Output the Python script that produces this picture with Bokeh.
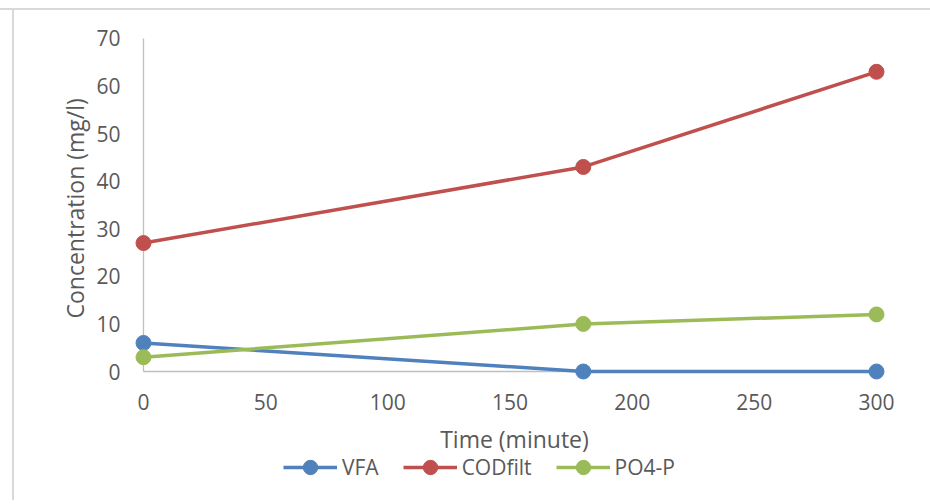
from bokeh.plotting import figure
from bokeh.models import Range1d, FixedTicker, Legend, LegendItem, Title
from bokeh.embed import file_html
from bokeh.resources import INLINE

time_min = [0, 180, 300]
vfa = [6, 0, 0]
codfilt = [27, 43, 63]
po4p = [3, 10, 12]
series_names = ["VFA", "CODfilt", "PO4-P"]
series_colors = ["#4f81bd", "#c0504d", "#9bbb59"]
x_ticks = [0, 50, 100, 150, 200, 250, 300]
y_ticks = [0, 10, 20, 30, 40, 50, 60, 70]

FONT = "Open Sans"
TXT = "#595959"
AXC = "#bfbfbf"
FRAME_BG = ("linear-gradient(#d9d9d9,#d9d9d9) 0px 8px / 100% 2px no-repeat, "
            "linear-gradient(#d9d9d9,#d9d9d9) 12px 8px / 2px 100% no-repeat")

p = figure(frame_width=762, frame_height=472, output_backend="svg",
           toolbar_location=None,
           x_range=Range1d(-4.093, 307.776), y_range=Range1d(-27.117, 72.102),
           min_border_left=133, min_border_right=35, min_border_top=28,
           min_border_bottom=0, styles={"background": FRAME_BG})
p.outline_line_color = None
p.background_fill_color = None
p.border_fill_color = None
p.xgrid.visible = False
p.ygrid.visible = False

for ax, ticks in ((p.xaxis[0], x_ticks), (p.yaxis[0], y_ticks)):
    ax.ticker = FixedTicker(ticks=ticks)
    ax.axis_line_color = None
    ax.major_tick_line_color = None
    ax.minor_tick_line_color = None
    ax.major_label_text_font = FONT
    ax.major_label_text_font_size = "21px"
    ax.major_label_text_color = TXT
    ax.axis_label_text_font = FONT
    ax.axis_label_text_font_size = "23px"
    ax.axis_label_text_font_style = "normal"
    ax.axis_label_text_color = TXT

p.xaxis[0].fixed_location = 0
p.xaxis[0].axis_label = "Time (minute)"
p.xaxis[0].major_label_standoff = 16
p.xaxis[0].axis_label_standoff = 10
p.yaxis[0].major_label_standoff = 7

ytitle = Title(text="Concentration (mg/l)", align="left", offset=182,
               standoff=5, text_font=FONT, text_font_size="23px",
               text_font_style="normal", text_color=TXT)
p.add_layout(ytitle, "left")

# axis lines at the data origin, spanning the tick range
p.segment(x0=[x_ticks[0], x_ticks[0]], y0=[y_ticks[0], y_ticks[0]],
          x1=[x_ticks[-1], x_ticks[0]], y1=[y_ticks[0], y_ticks[-1]],
          line_color=AXC, line_width=1.3)

items = []
for name, ys, col in zip(series_names, [vfa, codfilt, po4p], series_colors):
    ln = p.line(time_min, ys, line_color=col, line_width=3.5)
    sc = p.scatter(time_min, ys, size=15, fill_color=col, line_color=col)
    items.append(LegendItem(label=name, renderers=[ln, sc]))

legend = Legend(items=items, orientation="horizontal", location=(150, 15),
                label_text_font=FONT, label_text_font_size="21px",
                label_text_color=TXT, glyph_width=54, glyph_height=36,
                label_standoff=5, spacing=24, padding=0, margin=0,
                border_line_color=None, background_fill_alpha=0)
p.add_layout(legend, "center")

open("out.html", "w").write(file_html(p, INLINE))
